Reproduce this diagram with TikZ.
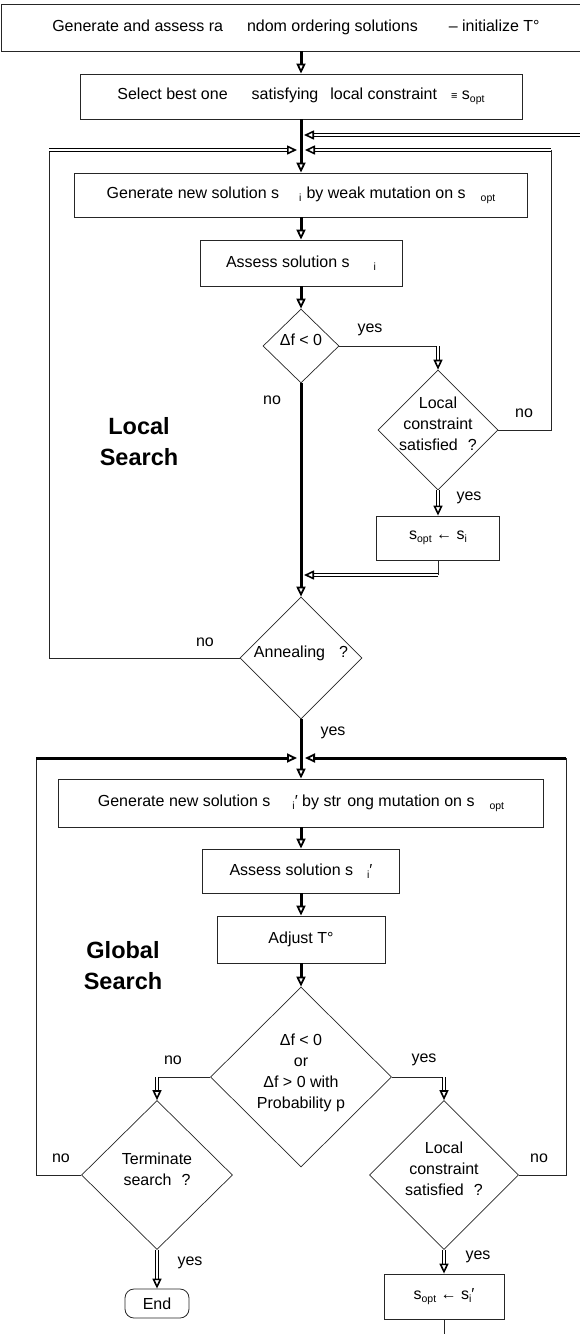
\documentclass[tikz,border=0pt]{standalone}
\usepackage{fontspec}
\setmainfont{Liberation Sans}
\usetikzlibrary{shapes.geometric,arrows.meta}
\newcommand\fsz{\fontsize{16}{21}\selectfont}
\newcommand\lowsub[1]{\raisebox{-0.4ex}{\fontsize{10.5}{12}\selectfont #1}}
\newcommand\dtext[1]{\makebox[0pt]{\smash{\begin{tabular}{@{}c@{}}#1\end{tabular}}}}
\tikzset{
	thinline/.style={draw=black!85, line width=0.8pt},
	box/.style={draw=black!85, line width=0.8pt, rectangle, inner sep=0pt, font=\fsz},
	decision/.style={draw=black!85, line width=0.7pt, diamond, inner sep=0pt, font=\fsz},
	flow/.style={line width=3pt, -{Triangle[open,length=10pt,width=9pt,line width=1.8pt]}},
	dbl/.style={double, double distance=1.4pt, line width=1.2pt, -{Triangle[open,length=10pt,width=9pt,line width=1.6pt]}},
	lbl/.style={font=\fsz, inner sep=0pt},
	sectitle/.style={font=\fontsize{23.5}{31}\selectfont\bfseries, align=center, inner sep=0pt},
}
\begin{document}
\begin{tikzpicture}[x=1pt,y=-1pt]
	\useasboundingbox (0,0) rectangle (579,1334);
	\node[box, minimum width=590pt, minimum height=47pt] (init) at (296,27.5) {Generate and assess ra\hspace{24pt}ndom ordering solutions\hspace{31pt}– initialize T°};
	\node[box, minimum width=442pt, minimum height=45pt] (select) at (301,96.5) {Select best one\hspace{24pt}satisfying\hspace{12pt}local constraint\hspace{14pt}{\fontsize{11}{12}\selectfont ≡} s\lowsub{opt}};
	\node[box, minimum width=453pt, minimum height=44pt] (weak) at (301,195) {Generate new solution s\hspace{20pt}\lowsub{i}\hspace{5pt}by weak mutation on s\hspace{15pt}\lowsub{opt}};
	\node[box, minimum width=202pt, minimum height=46pt] (assess) at (301,263) {Assess solution s\hspace{24pt}\lowsub{i}};
	\node[decision, minimum width=76pt, minimum height=74pt] (df) at (301,346) {\dtext{Δf < 0}};
	\node[decision, minimum width=120pt, minimum height=120pt] (lc) at (438,430) {\dtext{Local\\constraint\\satisfied\hspace{10pt}?}};
	\node[box, minimum width=123pt, minimum height=44pt] (upd) at (438,538) {s\lowsub{opt} ← s\lowsub{i}};
	\node[decision, minimum width=122pt, minimum height=122pt] (ann) at (301,658) {\dtext{Annealing\hspace{14pt}?}};
	\node[box, minimum width=485pt, minimum height=48pt] (strong) at (301,803) {Generate new solution s\hspace{22pt}\lowsub{i}′ by str\hspace{6pt}ong mutation on s\hspace{15pt}\lowsub{opt}};
	\node[box, minimum width=197pt, minimum height=44pt] (assess2) at (301,871) {Assess solution s\hspace{14pt}\lowsub{i}′};
	\node[box, minimum width=168pt, minimum height=47pt] (adjust) at (301,939.5) {Adjust T°};
	\node[decision, minimum width=181pt, minimum height=180pt] (accept) at (301,1077) {\dtext{Δf < 0\\or\\Δf > 0 with\\Probability p}};
	\node[decision, minimum width=151pt, minimum height=149pt] (term) at (157,1175) {\dtext{Terminate\\search\hspace{10pt}?}};
	\node[decision, minimum width=149pt, minimum height=149pt] (lc2) at (444,1175) {\dtext{Local\\constraint\\satisfied\hspace{10pt}?}};
	\node[box, rounded corners=9pt, minimum width=64pt, minimum height=29pt] (endn) at (157,1303.5) {End};
	\node[box, minimum width=120pt, minimum height=45pt] (upd2) at (444,1296.5) {s\lowsub{opt} ← s\lowsub{i}′};
	\node[sectitle] (lsearch) at (139,442) {Local\\Search};
	\node[sectitle] (gsearch) at (123,966) {Global\\Search};
	\node[lbl] (yes1) at (370,330) {yes};
	\node[lbl] (no1) at (272,400) {no};
	\node[lbl] (no2) at (524,413) {no};
	\node[lbl] (yes2) at (469,498) {yes};
	\node[lbl] (no3) at (205,642) {no};
	\node[lbl] (yes3) at (333,733) {yes};
	\node[lbl] (no4) at (173,1060) {no};
	\node[lbl] (yes4) at (424,1060) {yes};
	\node[lbl] (no5) at (61,1158) {no};
	\node[lbl] (no6) at (539,1158) {no};
	\node[lbl] (yes5) at (190,1263) {yes};
	\node[lbl] (yes6) at (478,1257) {yes};
	\coordinate (fbr) at (584,135);
	\coordinate (fbj) at (304,135);
	\coordinate (lsw) at (49,658);
	\coordinate (lnw) at (49,150);
	\coordinate (lne) at (551,150);
	\coordinate (lse) at (551,430);
	\coordinate (ljl) at (297,150);
	\coordinate (ljr) at (305,150);
	\coordinate (ret) at (438,575);
	\coordinate (retj) at (304,575);
	\coordinate (gsw) at (36,1175);
	\coordinate (gnw) at (36,758);
	\coordinate (gne) at (566,758);
	\coordinate (gse) at (566,1175);
	\coordinate (gjl) at (297,758);
	\coordinate (gjr) at (305,758);
	\coordinate (tail) at (444,1338);
	\draw[flow] (init.south -| select.north) -- (select.north);
	\draw[flow] (select) -- (weak);
	\draw[dbl] (fbr) -- (fbj);
	\draw[thinline] (ann.west) -- (lsw) -- (lnw);
	\draw[dbl] (lnw) -- (ljl);
	\draw[thinline] (lc.east) -- (lse) -- (lne);
	\draw[dbl] (lne) -- (ljr);
	\draw[flow] (weak) -- (assess);
	\draw[flow] (assess) -- (df);
	\draw[thinline] (df.east) -- (df.east -| lc.north);
	\draw[dbl] (df.east -| lc.north) -- (lc.north);
	\draw[flow] (df.south) -- (ann.north);
	\draw[dbl] (lc) -- (upd);
	\draw[thinline] (upd.south) -- (ret);
	\draw[dbl] (ret) -- (retj);
	\draw[flow] (ann.south) -- (strong.north);
	\draw[thinline] (term.west) -- (gsw) -- (gnw);
	\draw[flow] (gnw) -- (gjl);
	\draw[thinline] (lc2.east) -- (gse) -- (gne);
	\draw[flow] (gne) -- (gjr);
	\draw[flow] (strong) -- (assess2);
	\draw[flow] (assess2) -- (adjust);
	\draw[flow] (adjust) -- (accept);
	\draw[thinline] (accept.west) -- (accept.west -| term.north);
	\draw[dbl] (accept.west -| term.north) -- (term.north);
	\draw[thinline] (accept.east) -- (accept.east -| lc2.north);
	\draw[dbl] (accept.east -| lc2.north) -- (lc2.north);
	\draw[dbl] (term) -- (endn);
	\draw[dbl] (lc2) -- (upd2);
	\draw[thinline] (upd2.south) -- (tail);
\end{tikzpicture}
\end{document}
